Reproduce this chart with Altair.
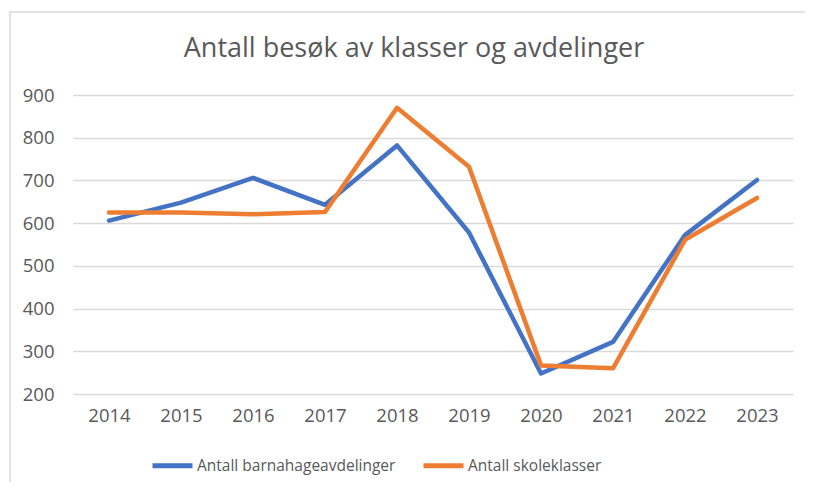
import altair as alt
import pandas as pd

years = ["2014", "2015", "2016", "2017", "2018", "2019", "2020", "2021", "2022", "2023"]
barnehage = [606, 648, 706, 643, 782, 578, 248, 322, 572, 701]
skole = [625, 625, 621, 626, 870, 732, 267, 260, 561, 659]
series_names = ["Antall barnahageavdelinger", "Antall skoleklasser"]
colors = ["#4472C4", "#ED7D31"]
y_ticks = [200, 300, 400, 500, 600, 700, 800, 900]
title_text = "Antall besøk av klasser og avdelinger"

rows = []
for name, vals in zip(series_names, [barnehage, skole]):
    for yr, v in zip(years, vals):
        rows.append({"year": yr, "value": v, "series": name})
df = pd.DataFrame(rows)

FONT = "Open Sans"
GRAY = "#595959"
one = pd.DataFrame({"a": [0]})

border = alt.Chart(one).mark_rect(
    fillOpacity=0, stroke="#D9D9D9", strokeWidth=1.5
).encode(
    x=alt.value(-63), x2=alt.value(800), y=alt.value(-83), y2=alt.value(500)
)

title = alt.Chart(one).mark_text(
    text=title_text, font=FONT, fontSize=27, color=GRAY, align="center", baseline="alphabetic"
).encode(x=alt.value(341), y=alt.value(-38))

lines = alt.Chart(df).mark_line(strokeWidth=4.5, strokeCap="round", strokeJoin="round").encode(
    x=alt.X("year:O", sort=years, title="",
            scale=alt.Scale(type="point", padding=0.5),
            axis=alt.Axis(labelAngle=0, ticks=False, domain=False, grid=False,
                          labelPadding=12, labelFontSize=18.5, labelColor=GRAY, labelFont=FONT)),
    y=alt.Y("value:Q", title="",
            scale=alt.Scale(domain=[200, 900], nice=False, zero=False),
            axis=alt.Axis(values=y_ticks, ticks=False, domain=False, grid=True,
                          gridColor="#D9D9D9", gridWidth=1.5,
                          labelPadding=19, labelFontSize=18.5, labelColor=GRAY, labelFont=FONT)),
    color=alt.Color("series:N", sort=series_names,
                    scale=alt.Scale(domain=series_names, range=colors),
                    legend=alt.Legend(title=None, orient="none", direction="horizontal",
                                      legendX=77, legendY=348,
                                      symbolType="stroke", symbolSize=1600, symbolStrokeWidth=5,
                                      labelFontSize=15.5, labelColor=GRAY, labelFont=FONT,
                                      labelLimit=0, labelOffset=2, columnPadding=17, padding=0)),
)

chart = alt.layer(border, title, lines).properties(
    width=720, height=299,
    autosize=alt.AutoSizeParams(type="none"),
    padding={"left": 65, "top": 87, "right": 12, "bottom": 88},
).configure_view(stroke=None)

chart.save("out.html", embed_options={"renderer": "svg", "actions": False})
